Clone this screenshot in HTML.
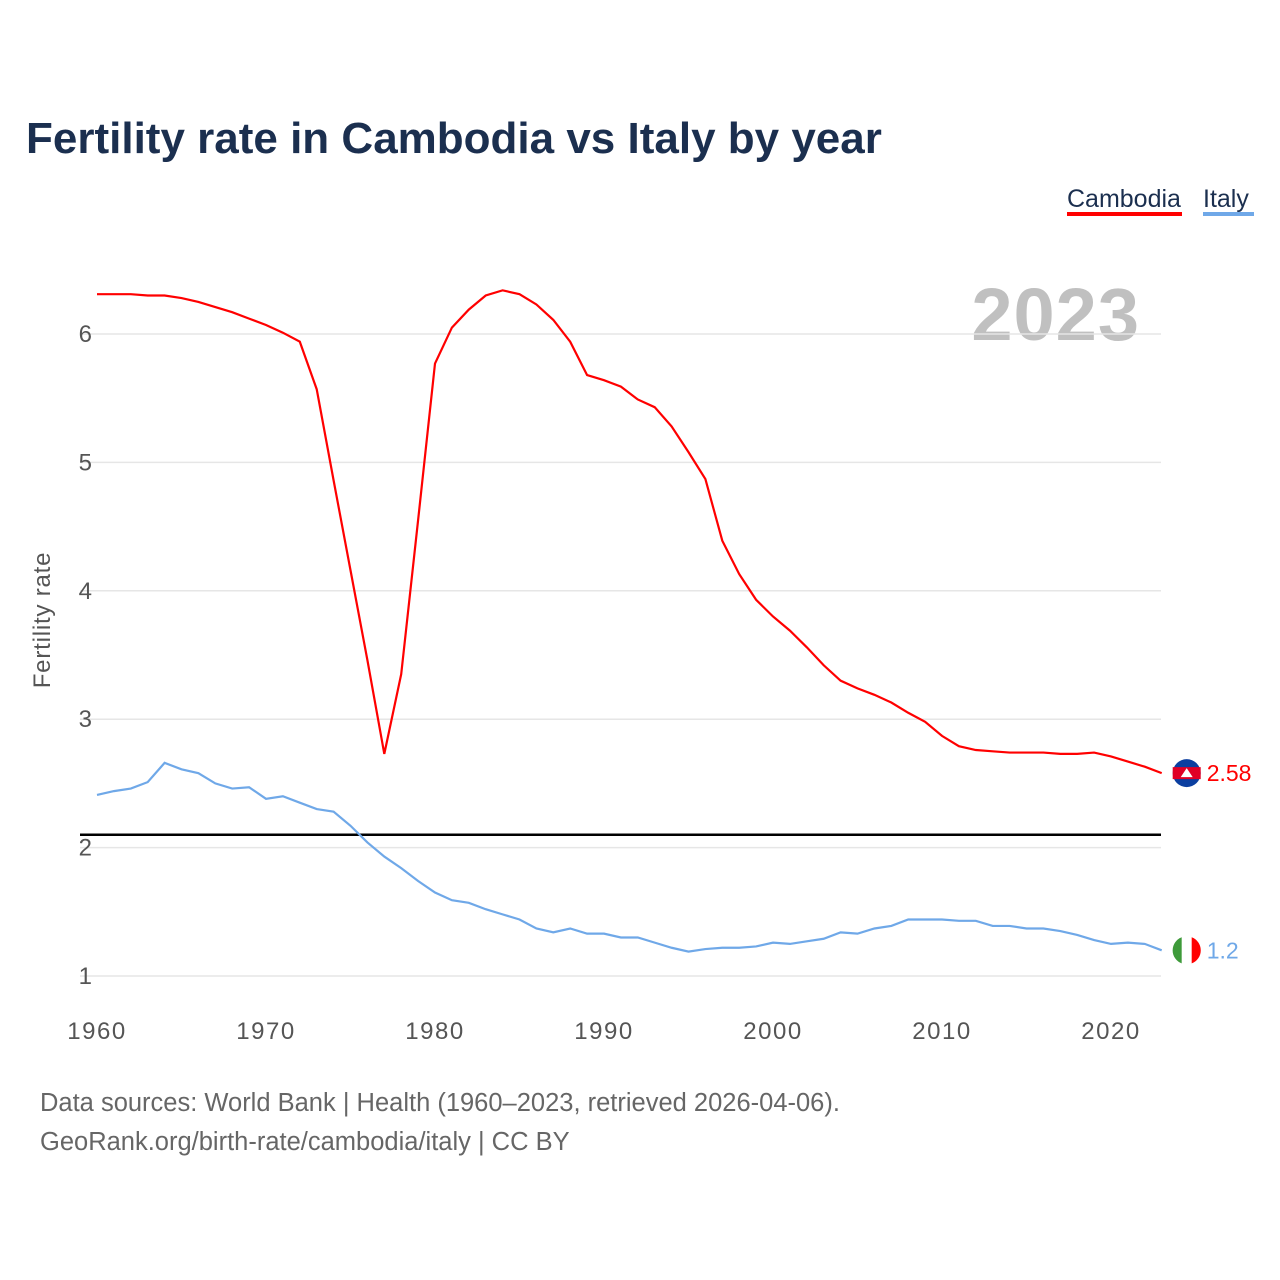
<!DOCTYPE html>
<html><head><meta charset="utf-8">
<style>
body{margin:0;background:#fff;font-family:"Liberation Sans",sans-serif;}
svg{display:block}
</style></head>
<body>
<svg id="chart" width="1280" height="1280" xmlns="http://www.w3.org/2000/svg">
<text x="26" y="153" font-size="44" font-weight="bold" fill="#1b2f4f">Fertility rate in Cambodia vs Italy by year</text>
<g>
<text x="1067" y="207" font-size="25" fill="#1b2f4f">Cambodia</text>
<rect x="1067" y="212" width="115" height="4" fill="#ff0000"/>
<text x="1203" y="207" font-size="25" fill="#1b2f4f">Italy</text>
<rect x="1203" y="212" width="51" height="4" fill="#6fa8e8"/>
</g>
<text x="1140" y="340" font-size="74" font-weight="bold" fill="#c0c0c0" text-anchor="end" letter-spacing="1">2023</text>
<text transform="translate(50,620) rotate(-90)" font-size="24" fill="#555" text-anchor="middle" letter-spacing="0.8">Fertility rate</text>
<g id="grid"></g><g id="xt"></g>
<g id="lines"></g>
<text x="40" y="1111" font-size="25.5" fill="#666">Data sources: World Bank | Health (1960–2023, retrieved 2026-04-06).</text>
<text x="40" y="1150" font-size="25.5" fill="#666">GeoRank.org/birth-rate/cambodia/italy | CC BY</text>
</svg>
<script>
const years=[];for(let y=1960;y<=2023;y++)years.push(y);
const cambodia=[6.31,6.31,6.31,6.30,6.30,6.28,6.25,6.21,6.17,6.12,6.07,6.01,5.94,5.57,4.86,4.16,3.46,2.73,3.35,4.55,5.77,6.05,6.19,6.30,6.34,6.31,6.23,6.11,5.94,5.68,5.64,5.59,5.49,5.43,5.28,5.08,4.87,4.39,4.13,3.93,3.80,3.69,3.56,3.42,3.30,3.24,3.19,3.13,3.05,2.98,2.87,2.79,2.76,2.75,2.74,2.74,2.74,2.73,2.73,2.74,2.71,2.67,2.63,2.58];
const italy=[2.41,2.44,2.46,2.51,2.66,2.61,2.58,2.50,2.46,2.47,2.38,2.40,2.35,2.30,2.28,2.17,2.04,1.93,1.84,1.74,1.65,1.59,1.57,1.52,1.48,1.44,1.37,1.34,1.37,1.33,1.33,1.30,1.30,1.26,1.22,1.19,1.21,1.22,1.22,1.23,1.26,1.25,1.27,1.29,1.34,1.33,1.37,1.39,1.44,1.44,1.44,1.43,1.43,1.39,1.39,1.37,1.37,1.35,1.32,1.28,1.25,1.26,1.25,1.20];
const yTicks=[1,2,3,4,5,6];
const xTicks=[1960,1970,1980,1990,2000,2010,2020];
const replacement=2.1;
const X=y=>97+(y-1960)*16.9;
const Y=v=>976-(v-1)*128.4;
const NS="http://www.w3.org/2000/svg";
function mk(t,a,p){const e=document.createElementNS(NS,t);for(const k in a)e.setAttribute(k,a[k]);p.appendChild(e);return e;}
const grid=document.getElementById('grid'),xt=document.getElementById('xt'),lines=document.getElementById('lines');
yTicks.forEach(v=>{
 const l=mk('line',{x1:80,x2:1161,y1:Y(v),y2:Y(v),stroke:'#e6e6e6','stroke-width':1.5},grid);
 
 
 const t=mk('text',{x:92,y:Y(v)+8,'font-size':24,fill:'#555','text-anchor':'end'},grid);t.textContent=v;
 
 
});
xTicks.forEach(v=>{
 const t=mk('text',{x:X(v),y:1039,'font-size':24,fill:'#555','text-anchor':'middle','letter-spacing':1.5},xt);t.textContent=v;
 
 
});
const rl=mk('line',{x1:80,x2:1161,y1:Y(replacement),y2:Y(replacement),stroke:'#000','stroke-width':2.5},lines);


function series(vals,color,name){
 const p=mk('path',{d:vals.map((v,i)=>(i?'L':'M')+X(years[i])+','+Y(v)).join(''),fill:'none',stroke:color,'stroke-width':2.2},lines);
 
 
 const lv=vals[vals.length-1],lx=X(years[years.length-1])+25,ly=Y(lv);
 const c=mk('circle',{cx:lx,cy:ly,r:14,fill:color==='#ff0000'?'#0b3fa0':'#fff'},lines);
 
 
 if(name==='cambodia'){mk('rect',{x:lx-14,y:ly-6,width:28,height:12,fill:'#e00025'},lines);mk('path',{d:`M${lx-6},${ly+4}L${lx},${ly-5}L${lx+6},${ly+4}Z`,fill:'#fff'},lines);}
 else{mk('path',{d:`M${lx-5},${ly-13.1}A14,14 0 0 0 ${lx-5},${ly+13.1}Z`,fill:'#3e9a3a'},lines);mk('path',{d:`M${lx+5},${ly-13.1}A14,14 0 0 1 ${lx+5},${ly+13.1}Z`,fill:'#f00'},lines);}
 const t=mk('text',{x:lx+20,y:ly+8,'font-size':23,fill:color},lines);t.textContent=lv;
 
 
}
series(cambodia,'#ff0000','cambodia');
series(italy,'#6fa8e8','italy');
</script>
</body></html>
